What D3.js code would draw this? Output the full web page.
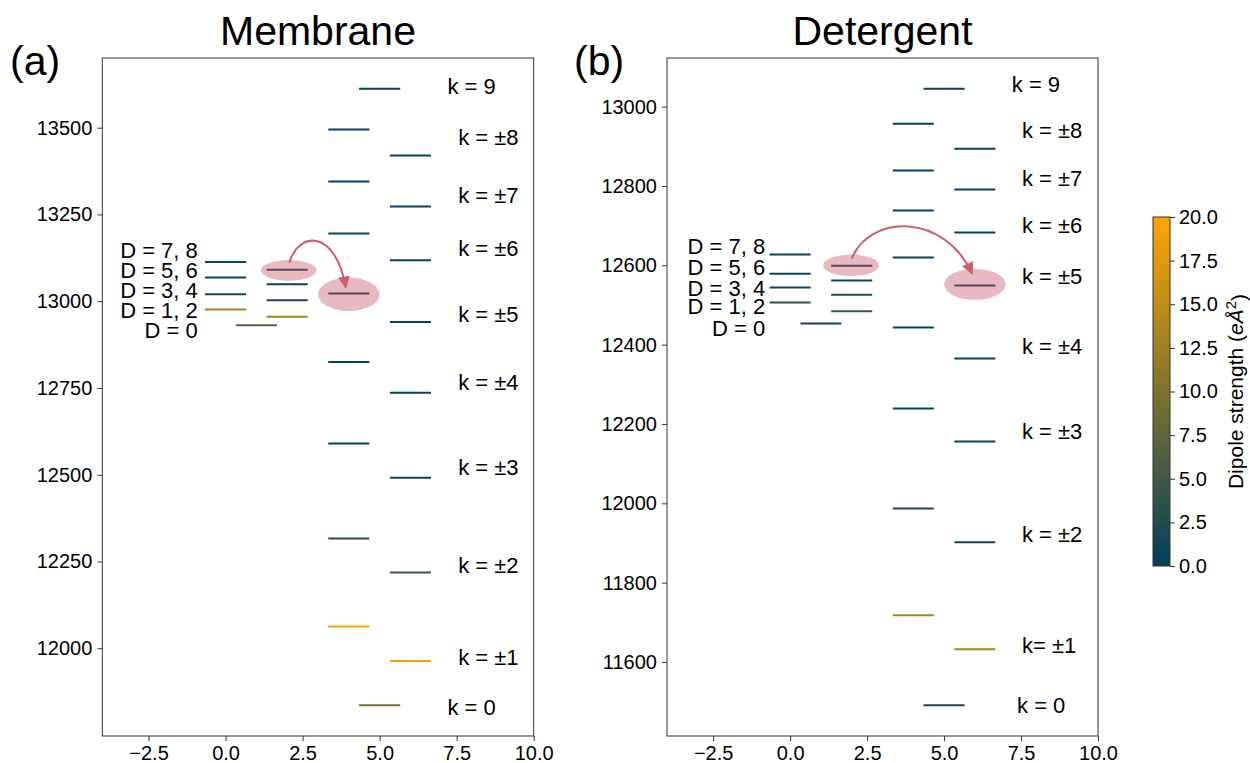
<!DOCTYPE html>
<html><head><meta charset="utf-8">
<script src="https://cdn.jsdelivr.net/npm/d3@7"></script>
<style>
body{margin:0;background:#fff}
text{font-family:"Liberation Sans",Arial,Helvetica,sans-serif;fill:#000}
</style>
</head><body>
<svg id="chart" width="1250" height="763"></svg>
<script>
// ---------------- data ----------------
const panelTitles = ["Membrane", "Detergent"];
const panelTags = ["(a)", "(b)"];

const xTicks = [-2.5, 0, 2.5, 5, 7.5, 10];
const memYTicks = [12000, 12250, 12500, 12750, 13000, 13250, 13500];
const detYTicks = [11600, 11800, 12000, 12200, 12400, 12600, 12800, 13000];
const cbarTicks = [0, 2.5, 5, 7.5, 10, 12.5, 15, 17.5, 20];

// level column (x centre), energy (cm^-1), dipole strength
const memLevelX = [0,0,0,0, 1, 2,2,2,2, 4,4,4,4,4,4,4,4, 6,6,6,6,6,6,6,6, 5,5];
const memLevelE = [13113,13068,13020,12976, 12931, 13091,13049,13003,12955,
                   13495,13345,13195,13022,12825,12590,12316,12063,
                   13420,13273,13118,12940,12736,12491,12218,11963, 13612,11836];
const memDipole = [0.8,0.8,1.3,13, 7, 0.8,0.8,2.3,13,
                   0.4,0.4,0.6,0.8,0.4,0.4,3,19.5,
                   0.4,0.4,0.4,0.6,0.4,0.6,5,19.5, 0.6,9];

const detLevelX = [0,0,0,0, 1, 2,2,2,2, 4,4,4,4,4,4,4,4, 6,6,6,6,6,6,6,6, 5,5];
const detLevelE = [12627,12579,12544,12506, 12453, 12599,12562,12526,12484,
                   12957,12839,12738,12620,12443,12239,11987,11718,
                   12894,12791,12683,12549,12365,12156,11902,11632, 13045,11491];
const detDipole = [0.8,0.8,1.3,4, 1.3, 0.8,1.3,2.3,4.5,
                   0.4,0.4,0.4,0.6,0.4,0.4,2,13,
                   0.6,0.4,0.4,0.8,0.4,0.6,1.3,13, 0.6,2];

const dLabels = ["D = 7, 8", "D = 5, 6", "D = 3, 4", "D = 1, 2", "D = 0"];
const memDLabelX = -0.9;
const memDLabelE = [13147,13089,13032,12974,12917];
const detDLabelX = -0.81;
const detDLabelE = [12647,12594,12542,12496,12441];

const memKLabels = ["k = 9","k = ±8","k = ±7","k = ±6","k = ±5","k = ±4","k = ±3","k = ±2","k = ±1","k = 0"];
const memKLabelX = [7.2,7.55,7.55,7.55,7.55,7.55,7.55,7.55,7.55,7.2];
const memKLabelE = [13618,13471,13305,13152,12963,12767,12520,12238,11974,11830];

const detKLabels = ["k = 9","k = ±8","k = ±7","k = ±6","k = ±5","k = ±4","k = ±3","k = ±2","k= ±1","k = 0"];
const detKLabelX = [7.2,7.53,7.53,7.53,7.53,7.53,7.53,7.53,7.53,7.37];
const detKLabelE = [13055,12940,12819,12700,12572,12395,12181,11922,11642,11489];

// highlight ellipses: [cx, cE, rx (x units), rE (energy units)]
const memEllipses = [[2.05,13089,0.9,30],[4.0,13020,1.0,48]];
const detEllipses = [[1.98,12600,0.91,27],[6.0,12552,1.0,39]];
// arrows: start, control1, control2, end  as [x, E]
const memArrow = [[2.07,13111],[2.38,13205],[3.58,13205],[3.9,13040]];
const detArrow = [[2.0,12617],[2.6,12731],[5.03,12731],[5.91,12579]];

// ---------------- drawing ----------------
const svg = d3.select("#chart");
const cmap = d3.scaleLinear().domain([0, 20]).range(["#003f5c", "#ffa600"])
  .interpolate(d3.interpolateRgb).clamp(true);

const defs = svg.append("defs");
defs.append("marker").attr("id", "arrowhead")
  .attr("viewBox", "0 0 10 10").attr("refX", 9).attr("refY", 5)
  .attr("markerUnits", "userSpaceOnUse")
  .attr("markerWidth", 14).attr("markerHeight", 12).attr("orient", "auto")
  .append("path").attr("d", "M0,0 L10,5 L0,10 z").attr("fill", "#cd5c6c");

const plotTop = 58, plotBottom = 736;
const fontTick = 20;

function drawPanel(cfg) {
  const x = d3.scaleLinear().domain([-4, 10]).range([cfg.left, cfg.right]);
  const ext = d3.extent(cfg.E);
  const pad = (ext[1] - ext[0]) * 0.05;
  const y = d3.scaleLinear().domain([ext[0] - pad, ext[1] + pad]).range([plotBottom, plotTop]);
  const g = svg.append("g");

  // levels
  const half = 2 / 3;
  g.selectAll("line.level").data(cfg.E.map((e, i) => ({e, x: cfg.X[i], d: cfg.dip[i]})))
    .join("line").attr("class", "level")
    .attr("x1", d => x(d.x - half)).attr("x2", d => x(d.x + half))
    .attr("y1", d => y(d.e)).attr("y2", d => y(d.e))
    .attr("stroke", d => cmap(d.d)).attr("stroke-width", 2);

  // highlight ellipses
  g.selectAll("ellipse").data(cfg.ell).join("ellipse")
    .attr("cx", d => x(d[0])).attr("cy", d => y(d[1]))
    .attr("rx", d => x(d[0] + d[2]) - x(d[0]))
    .attr("ry", d => y(d[1] - d[3]) - y(d[1]))
    .attr("fill", "rgb(200,80,100)").attr("fill-opacity", 0.4);

  // arrow
  const a = cfg.arrow.map(p => [x(p[0]), y(p[1])]);
  const path = d3.path();
  path.moveTo(a[0][0], a[0][1]);
  path.bezierCurveTo(a[1][0], a[1][1], a[2][0], a[2][1], a[3][0], a[3][1]);
  g.append("path").attr("d", path.toString()).attr("fill", "none")
    .attr("stroke", "#cd5c6c").attr("stroke-width", 2)
    .attr("marker-end", "url(#arrowhead)");

  // D labels
  g.selectAll("text.dlab").data(dLabels).join("text").attr("class", "dlab")
    .attr("x", x(cfg.dX)).attr("y", (d, i) => y(cfg.dE[i]))
    .attr("text-anchor", "end").attr("dominant-baseline", "central")
    .style("font-size", "22px").text(d => d);

  // k labels
  g.selectAll("text.klab").data(cfg.kLab).join("text").attr("class", "klab")
    .attr("x", (d, i) => x(cfg.kX[i])).attr("y", (d, i) => y(cfg.kE[i]))
    .attr("dominant-baseline", "central")
    .style("font-size", "22px").text(d => d);

  // frame
  g.append("rect").attr("x", cfg.left).attr("y", plotTop)
    .attr("width", cfg.right - cfg.left).attr("height", plotBottom - plotTop)
    .attr("fill", "none").attr("stroke", "#333").attr("stroke-width", 1);

  // axes
  const ya = g.append("g").attr("transform", `translate(${cfg.left},0)`)
    .call(d3.axisLeft(y).tickValues(cfg.yTicks).tickFormat(d3.format("d")).tickSize(5).tickPadding(5));
  const xa = g.append("g").attr("transform", `translate(0,${plotBottom})`)
    .call(d3.axisBottom(x).tickValues(xTicks).tickFormat(d3.format(".1f")).tickSize(5).tickPadding(5));
  [ya, xa].forEach(ax => {
    ax.select(".domain").remove();
    ax.selectAll(".tick line").attr("stroke", "#333");
    ax.selectAll(".tick text").style("font-size", fontTick + "px")
      .style("font-family", '"Liberation Sans",Arial,sans-serif').attr("fill", "#000");
  });

  // title and tag
  g.append("text").attr("x", (cfg.left + cfg.right) / 2).attr("y", 45)
    .attr("text-anchor", "middle").style("font-size", "41px").attr("fill", "#222").text(cfg.title);
  g.append("text").attr("x", cfg.tagX).attr("y", 75)
    .style("font-size", "41px").attr("fill", "#222").text(cfg.tag);
}

drawPanel({left: 102.3, right: 533.7, X: memLevelX, E: memLevelE, dip: memDipole,
  ell: memEllipses, arrow: memArrow, dX: memDLabelX, dE: memDLabelE,
  kLab: memKLabels, kX: memKLabelX, kE: memKLabelE, yTicks: memYTicks,
  title: panelTitles[0], tag: panelTags[0], tagX: 10});
drawPanel({left: 667, right: 1098, X: detLevelX, E: detLevelE, dip: detDipole,
  ell: detEllipses, arrow: detArrow, dX: detDLabelX, dE: detDLabelE,
  kLab: detKLabels, kX: detKLabelX, kE: detKLabelE, yTicks: detYTicks,
  title: panelTitles[1], tag: panelTags[1], tagX: 574});

// colorbar
const cb = {x: 1153, w: 17, top: 217, bottom: 566};
const cy = d3.scaleLinear().domain([0, 20]).range([cb.bottom, cb.top]);
const grad = defs.append("linearGradient").attr("id", "cbgrad")
  .attr("x1", 0).attr("y1", 1).attr("x2", 0).attr("y2", 0);
d3.range(0, 21, 2).forEach(v => grad.append("stop").attr("offset", v / 20).attr("stop-color", cmap(v)));
svg.append("rect").attr("x", cb.x).attr("y", cb.top).attr("width", cb.w)
  .attr("height", cb.bottom - cb.top).attr("fill", "url(#cbgrad)")
  .attr("stroke", "#333").attr("stroke-width", 1);
const cax = svg.append("g").attr("transform", `translate(${cb.x + cb.w},0)`)
  .call(d3.axisRight(cy).tickValues(cbarTicks).tickFormat(d3.format(".1f")).tickSize(5).tickPadding(4));
cax.select(".domain").remove();
cax.selectAll(".tick line").attr("stroke", "#333");
cax.selectAll(".tick text").style("font-size", fontTick + "px")
  .style("font-family", '"Liberation Sans",Arial,sans-serif').attr("fill", "#000");

const lab = svg.append("text")
  .attr("transform", `translate(1243,${(cb.top + cb.bottom) / 2}) rotate(-90)`)
  .attr("text-anchor", "middle").style("font-size", "21px");
lab.append("tspan").text("Dipole strength (");
lab.append("tspan").style("font-style", "italic").text("eÅ");
lab.append("tspan").attr("dy", "-0.5em").style("font-size", "15px").text("2");
lab.append("tspan").attr("dy", "0.5em").text(")");
</script>
</body></html>
